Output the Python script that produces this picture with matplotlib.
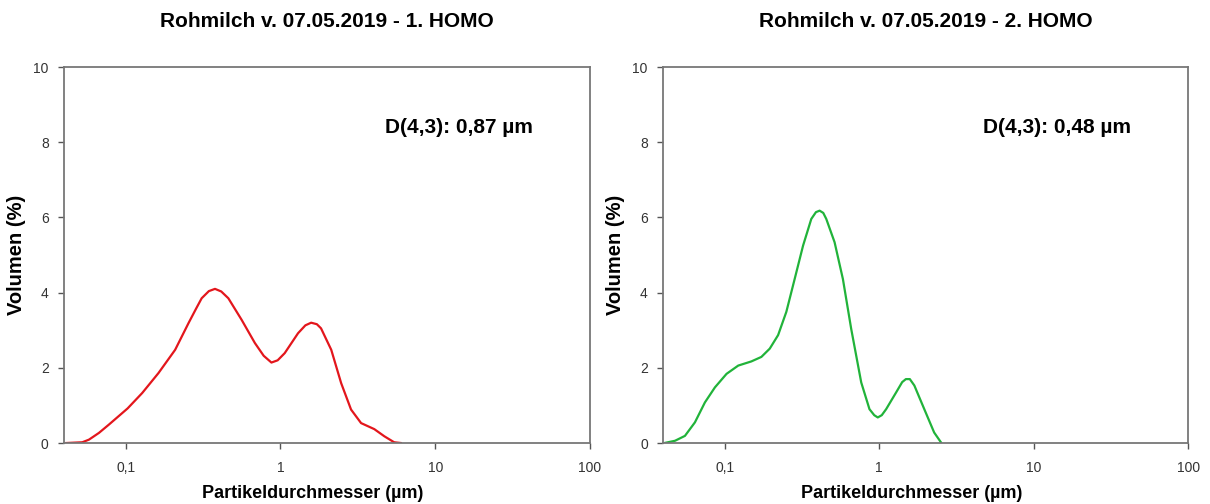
import matplotlib
matplotlib.use("Agg")
import matplotlib.pyplot as plt

plt.rcParams["font.family"] = ["Liberation Sans", "DejaVu Sans"]

# particle size distribution, 1. homogenisation
size_1 = [0.0414, 0.0525, 0.058, 0.0673, 0.078, 0.103, 0.128, 0.163, 0.209, 0.255,
          0.285, 0.31, 0.345, 0.378, 0.415, 0.461, 0.561, 0.684, 0.78, 0.875, 0.96,
          1.066, 1.30, 1.45, 1.58, 1.72, 1.83, 2.13, 2.47, 2.86, 3.32, 4.04,
          4.69, 5.43, 6.0]
vol_1 = [0.0, 0.02, 0.09, 0.27, 0.49, 0.92, 1.33, 1.86, 2.48, 3.19,
         3.57, 3.85, 4.04, 4.1, 4.03, 3.85, 3.28, 2.66, 2.32, 2.14, 2.2,
         2.39, 2.92, 3.13, 3.2, 3.16, 3.05, 2.48, 1.59, 0.89, 0.53, 0.37,
         0.18, 0.02, 0.0]

# particle size distribution, 2. homogenisation
size_2 = [0.0408, 0.0478, 0.0554, 0.0643, 0.0746, 0.0866, 0.103, 0.1226, 0.149, 0.173,
          0.196, 0.222, 0.251, 0.284, 0.322, 0.364, 0.39, 0.412, 0.435, 0.455,
          0.515, 0.583, 0.66, 0.766, 0.866, 0.93, 0.98, 1.04, 1.11, 1.29, 1.41,
          1.49, 1.58, 1.69, 1.96, 2.27, 2.51]
vol_2 = [0.0, 0.06, 0.19, 0.55, 1.08, 1.48, 1.84, 2.06, 2.17, 2.29,
         2.51, 2.87, 3.49, 4.36, 5.25, 5.96, 6.14, 6.18, 6.12, 5.96,
         5.34, 4.36, 3.03, 1.61, 0.90, 0.74, 0.68, 0.74, 0.90, 1.35, 1.62,
         1.70, 1.70, 1.53, 0.90, 0.28, 0.02]

titles = ["Rohmilch v. 07.05.2019 - 1. HOMO", "Rohmilch v. 07.05.2019 - 2. HOMO"]
d43 = ["D(4,3): 0,87 µm", "D(4,3): 0,48 µm"]
x_ticks = [0.1, 1, 10, 100]
x_labels = ["0,1", "1", "10", "100"]
y_ticks = [0, 2, 4, 6, 8, 10]

fig = plt.figure(figsize=(12.1, 5.04), dpi=100)
ax1 = fig.add_axes([0.0529, 0.121, 0.4347, 0.746])
ax2 = fig.add_axes([0.548, 0.121, 0.434, 0.746])

data = [(ax1, size_1, vol_1, "#e3161c"), (ax2, size_2, vol_2, "#21b33a")]
for i, (ax, xs, ys, col) in enumerate(data):
    ax.plot(xs, ys, color=col, lw=1.6)
    ax.set_xscale("log")
    ax.set_xlim(0.04, 100)
    ax.set_ylim(0, 10)
    ax.set_xticks(x_ticks)
    ax.set_xticklabels(x_labels)
    ax.xaxis.set_minor_locator(matplotlib.ticker.NullLocator())
    ax.set_yticks(y_ticks)
    ax.tick_params(labelsize=10, colors="#555555", labelcolor="#333333",
                   length=4, width=1)
    ax.tick_params(axis="x", pad=9)
    ax.tick_params(axis="y", pad=7)
    for sp in ax.spines.values():
        sp.set_color("#777777")
        sp.set_linewidth(1.3)
    ax.set_title(titles[i], fontsize=15, fontweight="bold", pad=29)
    ax.set_xlabel("Partikeldurchmesser (µm)", fontsize=13, fontweight="bold")
    ax.xaxis.set_label_coords(0.473, -0.112)
    ax.set_ylabel("Volumen (%)", fontsize=14.5, fontweight="bold", labelpad=5)
    ax.text(0.61, 0.84, d43[i], transform=ax.transAxes, fontsize=15,
            fontweight="bold", va="center")

fig.savefig("out.png", dpi=100)
